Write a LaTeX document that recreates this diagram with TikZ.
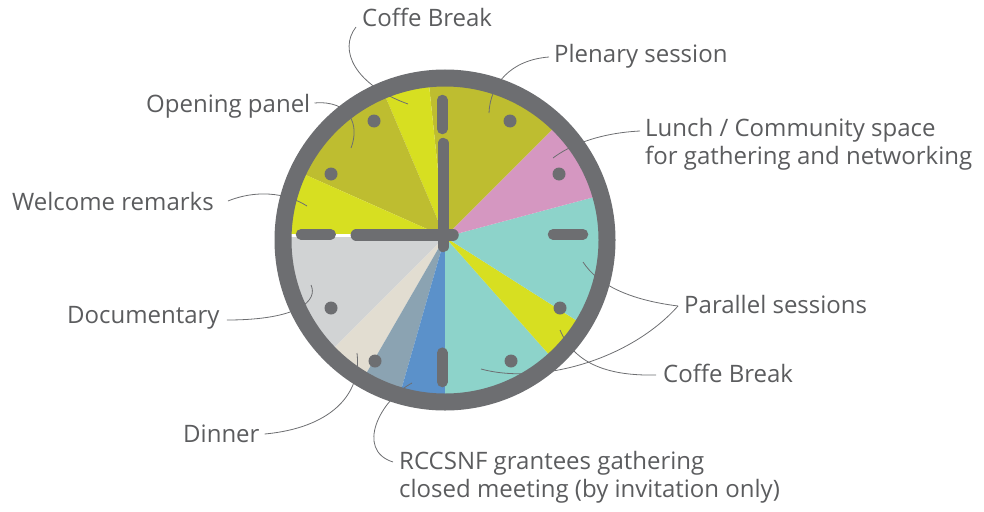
\documentclass[tikz,border=0pt]{standalone}
\usepackage{fontspec}
\setmainfont{Open Sans}
\definecolor{cRing}{HTML}{6D6E71}
\definecolor{cOlive}{HTML}{BEBD30}
\definecolor{cLime}{HTML}{D7DF21}
\definecolor{cPink}{HTML}{D597C1}
\definecolor{cTeal}{HTML}{8DD3CA}
\definecolor{cGray}{HTML}{D1D3D4}
\definecolor{cBeige}{HTML}{E2DDD1}
\definecolor{cSlate}{HTML}{8BA3B2}
\definecolor{cBlue}{HTML}{5B91CA}
\definecolor{cText}{HTML}{5B5C5E}
\begin{document}
\begin{tikzpicture}[x=1pt,y=-1pt,
  lbl/.style={anchor=base west, inner sep=0pt, text=cText, align=left,
    font=\fontsize{24}{28}\selectfont},
  lead/.style={draw=cRing, line width=0.8pt},
  clocktick/.style={draw=cRing, line width=10.5pt, line cap=round},
  clockhand/.style={draw=cRing, line width=11.5pt, line cap=round},
  hourdot/.style={fill=cRing}]
\useasboundingbox (0,0) rectangle (984,511);

% face sectors
\begin{scope}
  \clip (445,240) circle[radius=155pt];
  \begin{scope}[shift={(445,237)}]
    \foreach \a/\b/\c in {45/96/cOlive, 96/113/cLime, 113/156/cOlive,
      156/180/cLime, 180/225/cGray, 225/240/cBeige, 240/254/cSlate,
      254/270/cBlue, 270/311.5/cTeal, 311.5/327.6/cLime, 327.6/375/cTeal,
      15/45/cPink}
      \fill[\c] (0,0) -- (-\a:300) -- ({-(\a+\b)/2}:300) -- (-\b:300) -- cycle;
  \end{scope}
  \draw[white, line width=3pt] (285,235.5) -- (443,235.5);
\end{scope}

% ring
\draw[cRing, line width=17pt] (445,240) circle[radius=162pt];

% ticks
\draw[clocktick] (442.3,100) -- (442.3,129);
\draw[clocktick] (442.3,352.7) -- (442.3,382);
\draw[clocktick] (301,234.3) -- (330.7,234.3);
\draw[clocktick] (553,234.3) -- (583,234.3);

% dots
\foreach \p in {(374,121),(510,121),(331,174),(559,174),(331,308),(560,308),(375,361),(511,361)}
  \fill[hourdot] \p circle[radius=6.5pt];

% hands
\draw[clockhand] (443.3,143.6) -- (443.3,246.4);
\draw[clockhand] (356.3,235) -- (453,235);

% labels
\node[lbl] (cb1) at (362,27) {Coffe Break};
\node[lbl] (plen) at (554,63) {Plenary session};
\node[lbl] (open) at (146,112) {Opening panel};
\node[lbl] (lunch) at (645,164) {Lunch / Community space\\for gathering and networking};
\node[lbl] (welc) at (12,210) {Welcome remarks};
\node[lbl] (par) at (684,313) {Parallel sessions};
\node[lbl] (docu) at (67,323) {Documentary};
\node[lbl] (cb2) at (663,382) {Coffe Break};
\node[lbl] (din) at (183,442) {Dinner};
\node[lbl] (rcc) at (399,497) {RCCSNF grantees gathering\\closed meeting (by invitation only)};

% leader end points
\coordinate (tcb1) at (408,104);
\coordinate (tplen) at (489,113);
\coordinate (topen) at (351,148);
\coordinate (tlunch) at (553,158);
\coordinate (twelc) at (307,206);
\coordinate (tdocu) at (311,285);
\coordinate (tpar1) at (583,262);
\coordinate (tpar2) at (481,369);
\coordinate (tcb2) at (560,330);
\coordinate (tdin) at (357,353);
\coordinate (trcc) at (412,383);

% leaders
\draw[lead] ([xshift=-6pt]cb1.base west) .. controls (338,50) and (355,85) .. (tcb1);
\draw[lead] ([xshift=-5pt,yshift=6pt]plen.base west) .. controls (510,60) and (490,85) .. (tplen);
\draw[lead] ([xshift=4pt,yshift=9pt]open.base east) .. controls (350,100) and (360,125) .. (topen);
\draw[lead] ([xshift=-5pt,yshift=33pt]lunch.base west) .. controls (600,133) and (570,145) .. (tlunch);
\draw[lead] ([xshift=14pt,yshift=9pt]welc.base east) .. controls (255,190) and (285,192) .. (twelc);
\draw[lead] ([xshift=7pt,yshift=3pt]docu.base east) .. controls (300,320) and (318,300) .. (tdocu);
\draw[lead] ([xshift=-6pt,yshift=7pt]par.base west) .. controls (630,300) and (598,285) .. (tpar1);
\draw[lead] ([xshift=-6pt,yshift=7pt]par.base west) .. controls (630,360) and (540,385) .. (tpar2);
\draw[lead] (tcb2) .. controls (575,365) and (610,376) .. ([xshift=-7pt,yshift=7pt]cb2.base west);
\draw[lead] ([xshift=5pt,yshift=8pt]din.base east) .. controls (330,428) and (362,395) .. (tdin);
\draw[lead] (trcc) .. controls (380,400) and (355,450) .. ([xshift=-6pt,yshift=35pt]rcc.base west);
\end{tikzpicture}
\end{document}
